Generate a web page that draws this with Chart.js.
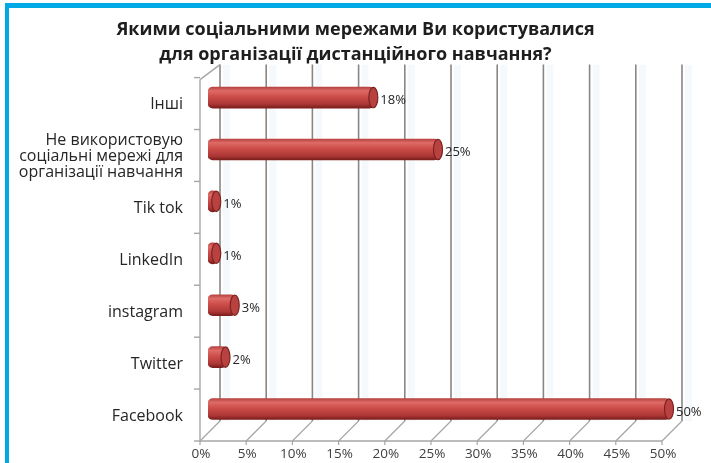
<!DOCTYPE html>
<html>
<head>
<meta charset="utf-8">
<script src="https://cdn.jsdelivr.net/npm/chart.js@4.4.1/dist/chart.umd.min.js"></script>
<style>
  html, body { margin: 0; padding: 0; background: #fff; }
  #wrap { position: relative; width: 711px; height: 463px; overflow: hidden; }
  #frame { position: absolute; left: 5px; top: 3px; right: -10px; bottom: -10px;
           border-left: 4px solid #00a9e6; border-top: 5px solid #00a9e6; }
  #graf { position: absolute; left: 0; top: 0; }
</style>
</head>
<body>
<div id="wrap">
  <div id="frame"></div>
  <canvas id="graf" width="711" height="463"></canvas>
</div>
<script>
// podatki
var kategorije = [
  'Інші',
  ['Не використовую', 'соціальні мережі для', 'організації навчання'],
  'Tik tok',
  'LinkedIn',
  'instagram',
  'Twitter',
  'Facebook'
];
var vrednosti = [18, 25, 1, 1, 3, 2, 50];
var osX = { min: 0, max: 50, korak: 5 };
var naslov = ['Якими соціальними мережами Ви користувалися', 'для організації дистанційного навчання?'];

var FONT = "'Open Sans', 'Noto Sans', sans-serif";

// gradient za "valj"
function barvaStolpca(context) {
  var chart = context.chart;
  if (!chart.chartArea || !chart.scales.y) return '#c0504d';
  var yc = chart.scales.y.getPixelForValue(context.dataIndex);
  var g = chart.ctx.createLinearGradient(0, yc - 10.5, 0, yc + 10.5);
  g.addColorStop(0, '#b7423f');
  g.addColorStop(0.18, '#de6b67');
  g.addColorStop(0.45, '#cd4d4a');
  g.addColorStop(0.8, '#ad3836');
  g.addColorStop(1, '#7a1d1c');
  return g;
}

// 3D okvir: zadnja mreza, tla, sprednje osi
var okvir3d = {
  id: 'okvir3d',
  afterLayout: function (chart) {
    // naslov centriran na cel graf
    if (chart.titleBlock) {
      chart.titleBlock.left = 0;
      chart.titleBlock.right = chart.width;
    }
  },
  beforeDatasetsDraw: function (chart) {
    var c = chart.ctx, a = chart.chartArea, sx = chart.scales.x;
    var frontBottom = a.bottom + 6, backBottom = a.bottom - 14, backTop = a.top - 7;
    c.save();
    for (var v = osX.min; v <= osX.max; v += osX.korak) {
      var p = sx.getPixelForValue(v);
      // svetel pas
      c.fillStyle = 'rgba(225,238,247,0.35)';
      c.fillRect(p + 15, backTop, 7, backBottom - backTop);
      // zadnja crta
      c.strokeStyle = '#8a8684';
      c.lineWidth = 1.6;
      c.beginPath();
      c.moveTo(p + 12, backTop);
      c.lineTo(p + 12, backBottom);
      c.stroke();
      // diagonala na tleh
      c.strokeStyle = '#a6a6a6';
      c.lineWidth = 1.2;
      c.beginPath();
      c.moveTo(p - 8, frontBottom);
      c.lineTo(p + 12, backBottom);
      c.stroke();
      // kljukica spodaj
      c.beginPath();
      c.moveTo(p - 8, frontBottom);
      c.lineTo(p - 8, frontBottom + 4);
      c.stroke();
    }
    var x0 = sx.getPixelForValue(osX.min) - 8, x1 = sx.getPixelForValue(osX.max) - 8;
    c.strokeStyle = '#a6a6a6';
    c.lineWidth = 1.4;
    // spodnja os
    c.beginPath();
    c.moveTo(x0, frontBottom);
    c.lineTo(x1, frontBottom);
    c.stroke();
    // leva os
    c.beginPath();
    c.moveTo(x0, a.top + 8);
    c.lineTo(x0, frontBottom);
    c.stroke();
    // zgornja diagonala
    c.beginPath();
    c.moveTo(x0, a.top + 8);
    c.lineTo(x0 + 20, backTop);
    c.stroke();
    // kljukice med kategorijami
    var n = kategorije.length, h = (a.bottom - a.top) / n;
    for (var i = 0; i <= n; i++) {
      var y = a.top + i * h + 6;
      c.beginPath();
      c.moveTo(x0 - 6, y);
      c.lineTo(x0, y);
      c.stroke();
    }
    c.restore();
  },
  afterDatasetsDraw: function (chart) {
    var c = chart.ctx;
    var meta = chart.getDatasetMeta(0);
    c.save();
    meta.data.forEach(function (bar, i) {
      // pokrov valja
      c.beginPath();
      c.ellipse(bar.x - 1, bar.y, 4.5, 10.2, 0, 0, Math.PI * 2);
      c.fillStyle = '#b8423f';
      c.fill();
      c.strokeStyle = '#7e2221';
      c.lineWidth = 1.2;
      c.stroke();
      // oznaka
      c.fillStyle = '#262626';
      c.font = '13px ' + FONT;
      c.textAlign = 'left';
      c.textBaseline = 'middle';
      c.fillText(vrednosti[i] + '%', bar.x + 6, bar.y + 3);
    });
    c.restore();
  }
};

function narisiGraf() {
  var ctx = document.getElementById('graf').getContext('2d');
  new Chart(ctx, {
    type: 'bar',
    data: {
      labels: kategorije,
      datasets: [{
        data: vrednosti,
        backgroundColor: barvaStolpca,
        borderWidth: 0,
        borderRadius: 5,
        borderSkipped: false,
        barThickness: 21
      }]
    },
    options: {
      indexAxis: 'y',
      responsive: false,
      animation: false,
      events: [],
      layout: { padding: { left: 0, right: 41, top: 0, bottom: 2 } },
      plugins: {
        legend: { display: false },
        tooltip: { enabled: false },
        title: {
          display: true,
          text: naslov,
          color: '#1e1e1e',
          font: { family: FONT, size: 18, weight: 'bold', lineHeight: 1.35 },
          padding: { top: 18, bottom: 5 }
        }
      },
      scales: {
        x: {
          min: osX.min,
          max: osX.max,
          grid: { display: false, drawTicks: false },
          border: { display: false },
          afterFit: function (scale) {
            scale.height = 26;
            scale.paddingLeft = 0;
            scale.paddingRight = 0;
          },
          ticks: {
            stepSize: osX.korak,
            padding: 11,
            labelOffset: -7,
            color: '#404040',
            font: { family: FONT, size: 13.5 },
            maxRotation: 0,
            callback: function (v) { return v + '%'; }
          }
        },
        y: {
          grid: { display: false, drawTicks: false },
          border: { display: false },
          afterFit: function (scale) {
            scale.width = 208;
            scale.paddingTop = 0;
            scale.paddingBottom = 0;
          },
          ticks: {
            padding: 25,
            labelOffset: 7,
            color: '#262626',
            crossAlign: 'near',
            font: { family: FONT, size: 16, lineHeight: 1.0 }
          }
        }
      }
    },
    plugins: [okvir3d]
  });
}

narisiGraf();
</script>
</body>
</html>
